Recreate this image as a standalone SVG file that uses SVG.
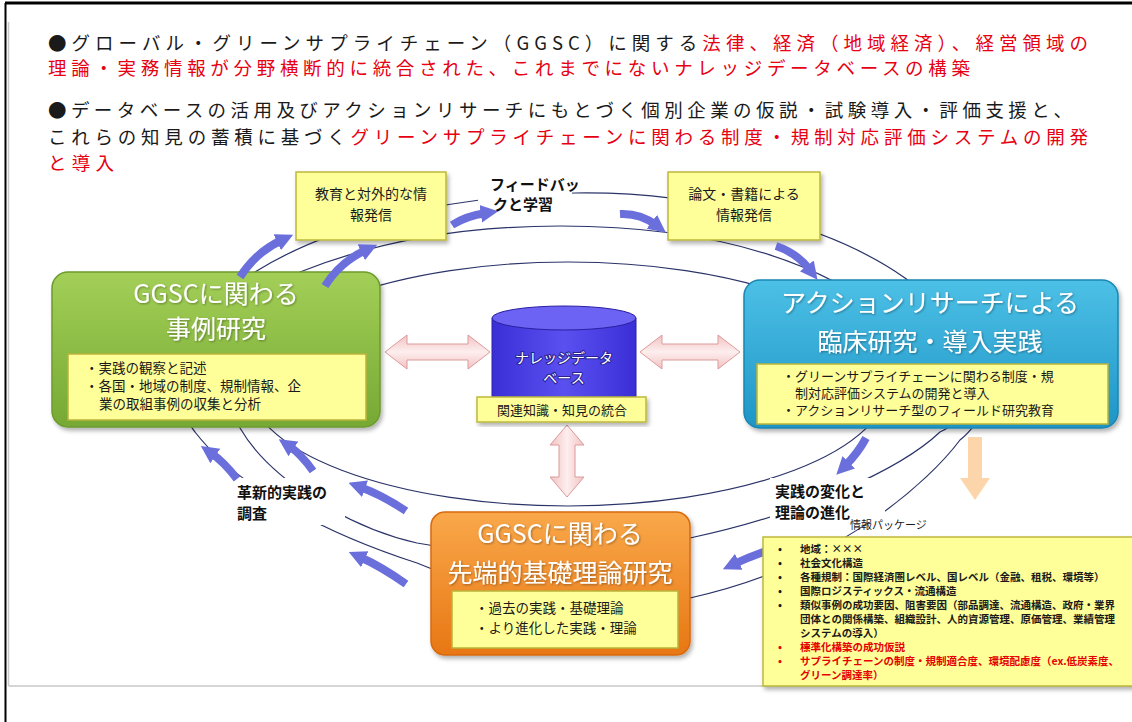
<svg xmlns="http://www.w3.org/2000/svg" width="1132" height="722" viewBox="0 0 1132 722">
<defs>
<style>
.jp{font-family:'Noto Sans CJK JP','Noto Sans',sans-serif}
.hd{font-size:18.5px;fill:#1a1a1a}
.red{fill:#e60012}
.ring{fill:none;stroke:#2b3468;stroke-width:1.2}
.flow{fill:none;stroke:#6b6fdc;stroke-width:8;marker-end:url(#ah)}
.title{font-size:25px;fill:#fff;text-anchor:middle}
.inner{fill:#ffff99;stroke:#b9b43a;stroke-width:1.5}
.it{font-size:13.5px;fill:#1a1a1a}
.it2{font-size:13px;fill:#1a1a1a}
.lbl{font-size:15px;font-weight:700;fill:#111}
.pk{font-size:10.5px;font-weight:700;fill:#1a1a1a}
.pkr{fill:#e60000}
.pink{fill:url(#pinkg);stroke:#dc9a9a;stroke-width:1}
.ybox{fill:#ffff99;stroke:#bdb83c;stroke-width:1.5}
</style>
<marker id="ah" viewBox="0 0 10 10" refX="3" refY="5" markerWidth="2.2" markerHeight="2.4" orient="auto" markerUnits="strokeWidth"><path d="M0,0 L10,5 L0,10 z" fill="#6b6fdc"/></marker>
<linearGradient id="gg" x1="0" y1="0" x2="0" y2="1"><stop offset="0" stop-color="#a3cf57"/><stop offset="1" stop-color="#76a934"/></linearGradient>
<linearGradient id="bg" x1="0" y1="0" x2="0" y2="1"><stop offset="0" stop-color="#4cc0e6"/><stop offset="1" stop-color="#1f95c6"/></linearGradient>
<linearGradient id="og" x1="0" y1="0" x2="0" y2="1"><stop offset="0" stop-color="#f9a84a"/><stop offset="1" stop-color="#e87714"/></linearGradient>
<linearGradient id="cyl" x1="0" y1="0" x2="1" y2="0"><stop offset="0" stop-color="#3a2fd6"/><stop offset="0.5" stop-color="#5a50f0"/><stop offset="1" stop-color="#3a2fd6"/></linearGradient>
<linearGradient id="pinkg" x1="0" y1="0" x2="0" y2="1"><stop offset="0" stop-color="#f2c2c2"/><stop offset="0.5" stop-color="#fdeeee"/><stop offset="1" stop-color="#f2c2c2"/></linearGradient>
<linearGradient id="pinkv" x1="0" y1="0" x2="1" y2="0"><stop offset="0" stop-color="#f2c2c2"/><stop offset="0.5" stop-color="#fdeeee"/><stop offset="1" stop-color="#f2c2c2"/></linearGradient>
<filter id="sh" x="-10%" y="-10%" width="125%" height="130%"><feDropShadow dx="2" dy="3" stdDeviation="2" flood-color="#000" flood-opacity="0.3"/></filter>
<filter id="tsh" x="-5%" y="-20%" width="110%" height="150%"><feDropShadow dx="1" dy="1" stdDeviation="1" flood-color="#000" flood-opacity="0.35"/></filter>
</defs>

<rect x="0" y="0" width="1132" height="722" fill="#fff"/>
<g id="frame">
<line x1="5" y1="3" x2="1132" y2="3" stroke="#000" stroke-width="3"/>
<line x1="5.5" y1="3" x2="5.5" y2="722" stroke="#000" stroke-width="2"/>
<line x1="8.5" y1="22" x2="8.5" y2="686" stroke="#c8c8c8" stroke-width="1.5"/>
<line x1="8.5" y1="686" x2="1132" y2="686" stroke="#c8c8c8" stroke-width="1.5"/>
</g>

<g id="header" class="jp hd">
<text x="48" y="50" textLength="1040" lengthAdjust="spacing">●グローバル・グリーンサプライチェーン（GGSC）に関する<tspan class="red">法律、経済（地域経済）、経営領域の</tspan></text>
<text x="48" y="75" textLength="922" lengthAdjust="spacing" class="red">理論・実務情報が分野横断的に統合された、これまでにないナレッジデータベースの構築</text>
<text x="48" y="117" textLength="1024" lengthAdjust="spacing">●データベースの活用及びアクションリサーチにもとづく個別企業の仮説・試験導入・評価支援と、</text>
<text x="48" y="144" textLength="1040" lengthAdjust="spacing">これらの知見の蓄積に基づく<tspan class="red">グリーンサプライチェーンに関わる制度・規制対応評価システムの開発</tspan></text>
<text x="48" y="170" class="red" textLength="66" lengthAdjust="spacing">と導入</text>
</g>

<g id="connectors">
<path class="ring" d="M255,272 C330,225 450,195 575,193 C700,191 830,225 905,278 C980,330 1010,400 960,440 C930,480 840,565 690,598 C600,620 480,590 417,563 C330,535 240,490 195,432 C160,390 190,310 255,272 Z"/>
<path class="ring" d="M300,272 C380,240 470,226 560,226 C680,226 770,248 835,282 C960,340 990,410 940,432 C900,470 800,515 690,538 C600,560 480,555 417,543 C350,528 270,480 240,428 C215,390 240,310 300,272 Z"/>
<ellipse class="ring" cx="568" cy="384" rx="320" ry="122"/>
<polygon class="pink" points="385,352 407,335 407,344 468,344 468,335 490,352 468,369 468,360 407,360 407,369"/>
<polygon class="pink" points="640,352 662,335 662,344 718,344 718,335 740,352 718,369 718,360 662,360 662,369"/>
<polygon points="567,425 584,445 575,445 575,477 584,477 567,497 550,477 559,477 559,445 550,445" fill="url(#pinkv)" stroke="#dc9a9a" stroke-width="1"/>
<polygon points="968,437 982,437 982,478 990,478 975,500 960,478 968,478" fill="#fcd6aa"/>
</g>

<g id="label-feedback" class="jp lbl">
<rect x="478" y="172" width="94" height="40" fill="#fff"/>
<text x="490" y="190">フィードバッ</text>
<text x="493" y="210">クと学習</text>
</g>
<g id="label-survey" class="jp lbl">
<rect x="235" y="478" width="110" height="47" fill="#fff"/>
<text x="237" y="498">革新的実践の</text>
<text x="237" y="519">調査</text>
</g>
<g id="label-evolution" class="jp lbl">
<rect x="770" y="478" width="115" height="44" fill="#fff"/>
<text x="775" y="497">実践の変化と</text>
<text x="775" y="518">理論の進化</text>
</g>

<g id="box-education" class="jp">
<rect class="ybox" x="296" y="172" width="150" height="68" filter="url(#sh)"/>
<text x="371" y="199" font-size="14" text-anchor="middle" fill="#1a1a1a">教育と対外的な情</text>
<text x="371" y="220" font-size="14" text-anchor="middle" fill="#1a1a1a">報発信</text>
</g>
<g id="box-papers" class="jp">
<rect class="ybox" x="668" y="172" width="152" height="68" filter="url(#sh)"/>
<text x="744" y="199" font-size="14" text-anchor="middle" fill="#1a1a1a">論文・書籍による</text>
<text x="744" y="220" font-size="14" text-anchor="middle" fill="#1a1a1a">情報発信</text>
</g>

<g id="node-case" class="jp">
<rect x="52" y="272" width="328" height="155" rx="16" fill="url(#gg)" stroke="#6c9a2f" stroke-width="1.5" filter="url(#sh)"/>
<text class="title" x="216" y="303" filter="url(#tsh)">GGSCに関わる</text>
<text class="title" x="216" y="338" filter="url(#tsh)">事例研究</text>
<rect class="inner" x="68" y="354" width="298" height="66"/>
<text class="it" x="85" y="373">・実践の観察と記述</text>
<text class="it" x="85" y="391">・各国・地域の制度、規制情報、企</text>
<text class="it" x="99" y="409">業の取組事例の収集と分析</text>
</g>

<g id="node-action" class="jp">
<rect x="744" y="280" width="374" height="148" rx="16" fill="url(#bg)" stroke="#1a86b3" stroke-width="1.5" filter="url(#sh)"/>
<text class="title" x="930" y="312" font-size="26" filter="url(#tsh)">アクションリサーチによる</text>
<text class="title" x="930" y="351" font-size="26" filter="url(#tsh)">臨床研究・導入実践</text>
<rect class="inner" x="757" y="364" width="351" height="60"/>
<text class="it2" x="782" y="381">・グリーンサプライチェーンに関わる制度・規</text>
<text class="it2" x="795" y="398">制対応評価システムの開発と導入</text>
<text class="it2" x="782" y="415">・アクションリサーチ型のフィールド研究教育</text>
</g>

<g id="node-theory" class="jp">
<rect x="431" y="512" width="259" height="143" rx="14" fill="url(#og)" stroke="#d86a10" stroke-width="1.5" filter="url(#sh)"/>
<text class="title" x="560" y="543" filter="url(#tsh)">GGSCに関わる</text>
<text class="title" x="560" y="582" filter="url(#tsh)">先端的基礎理論研究</text>
<rect class="inner" x="452" y="591" width="226" height="57"/>
<text class="it" x="475" y="613">・過去の実践・基礎理論</text>
<text class="it" x="475" y="633">・より進化した実践・理論</text>
</g>

<g id="node-database" class="jp">
<path d="M492,318 L492,400 L636,400 L636,318 Z" fill="url(#cyl)" stroke="#2a20a0" stroke-width="1"/>
<ellipse cx="564" cy="318" rx="72" ry="12" fill="#6c62f4" stroke="#2a20a0" stroke-width="1"/>
<text x="564" y="363" font-size="14" text-anchor="middle" fill="#fff" stroke="#2a2090" stroke-width="2" paint-order="stroke">ナレッジデータ</text>
<text x="564" y="383" font-size="14" text-anchor="middle" fill="#fff" stroke="#2a2090" stroke-width="2" paint-order="stroke">ベース</text>
<rect class="ybox" x="477" y="397" width="169" height="25" filter="url(#sh)"/>
<text x="562" y="415" font-size="13" text-anchor="middle" fill="#1a1a1a">関連知識・知見の統合</text>
</g>

<g id="flows">
<path class="flow" d="M240,277 Q256,252 282,240"/>
<path class="flow" d="M325,286 Q340,262 366,250"/>
<path class="flow" d="M452,225 Q466,216 486,213"/>
<path class="flow" d="M620,214 Q640,213 656,225"/>
<path class="flow" d="M776,246 Q797,253 810,270"/>
<path class="flow" d="M866,438 Q858,453 845,466"/>
<path class="flow" d="M766,551 Q749,557 734,564"/>
<path class="flow" d="M406,511 Q382,495 360,487"/>
<path class="flow" d="M406,584 Q382,567 360,557"/>
<path class="flow" d="M237,479 Q224,462 211,453"/>
<path class="flow" d="M313,471 Q301,454 289,446"/>
</g>

<g id="info-package" class="jp">
<text x="850" y="529" font-size="11" fill="#1a1a1a">情報パッケージ</text>
<rect class="ybox" x="763" y="537" width="380" height="149" filter="url(#sh)"/>
<g class="pk">
<text x="778" y="553">•</text><text x="800" y="553">地域：×××</text>
<text x="778" y="567">•</text><text x="800" y="567">社会文化構造</text>
<text x="778" y="581">•</text><text x="800" y="581">各種規制：国際経済圏レベル、国レベル（金融、租税、環境等）</text>
<text x="778" y="595">•</text><text x="800" y="595">国際ロジスティックス・流通構造</text>
<text x="778" y="609">•</text><text x="800" y="609">類似事例の成功要因、阻害要因（部品調達、流通構造、政府・業界</text>
<text x="800" y="623">団体との関係構築、組織設計、人的資源管理、原価管理、業績管理</text>
<text x="800" y="637">システムの導入）</text>
<text x="778" y="651" class="pkr">•</text><text x="800" y="651" class="pkr">標準化構築の成功仮説</text>
<text x="778" y="665" class="pkr">•</text><text x="800" y="665" class="pkr">サプライチェーンの制度・規制適合度、環境配慮度（ex.低炭素度、</text>
<text x="800" y="679" class="pkr">グリーン調達率）</text>
</g>
</g>
</svg>
